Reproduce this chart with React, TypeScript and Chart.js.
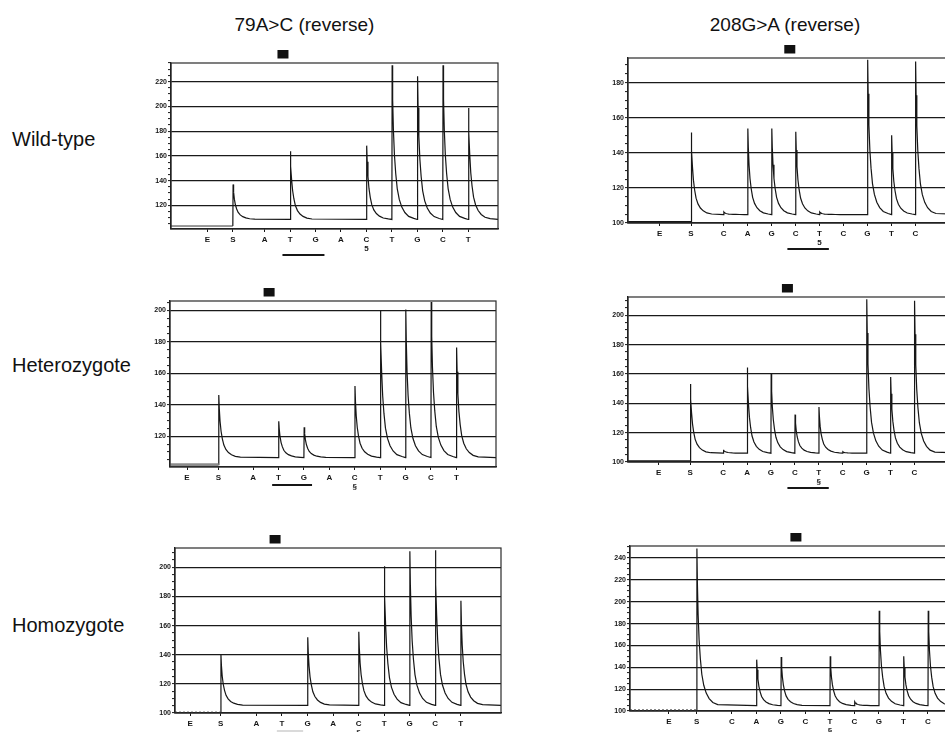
import React, { useEffect, useRef } from 'react';
import { Chart, registerables } from 'chart.js';

Chart.register(...registerables);

// ---------- data ----------
const columnTitles = ['79A>C (reverse)', '208G>A (reverse)'];
const rowLabels = ['Wild-type', 'Heterozygote', 'Homozygote'];

const letters79 = ['E', 'S', 'A', 'T', 'G', 'A', 'C', 'T', 'G', 'C', 'T'];
const letters208 = ['E', 'S', 'C', 'A', 'G', 'C', 'T', 'C', 'G', 'T', 'C'];

const notes5 = ['', '', '', '', '', '', '5', '', '', '', ''];
const notesS = ['', '', '', '', '', '', '§', '', '', '', ''];

// dispensation times (dispensation units, E = 0)
const timesWt79 = [0, 1, 2.25, 3.25, 4.25, 5.25, 6.25, 7.25, 8.25, 9.25, 10.25];
const timesWt208 = [0, 1.31, 2.67, 3.67, 4.67, 5.67, 6.67, 7.67, 8.67, 9.67, 10.67];
const timesHet79 = [0, 1.24, 2.6, 3.6, 4.6, 5.6, 6.6, 7.6, 8.6, 9.6, 10.6];
const timesHet208 = [0, 1.32, 2.7, 3.7, 4.7, 5.7, 6.7, 7.7, 8.7, 9.7, 10.7];
const timesHom79 = [0, 1.2, 2.6, 3.6, 4.6, 5.6, 6.6, 7.6, 8.6, 9.6, 10.6];
const timesHom208 = [0, 1.13, 2.57, 3.57, 4.57, 5.57, 6.57, 7.57, 8.57, 9.57, 10.57];

// peak heights (signal) per dispensation, null = no incorporation
const peaksWt79 = [null, 137, null, 163.8, null, null, 168.3, 233.2, 224.3, 233.2, 198.6];
const peaksWt208 = [null, 151.5, 106.3, 153.8, 153.8, 152, 106.3, null, 193, 150, 192];
const peaksHet79 = [null, 146.3, null, 129.6, 125.8, null, 152, 200, 200.6, 205.3, 176.4];
const peaksHet208 = [null, 153.2, 108.3, 164.5, 160.2, 132.3, 137.5, 107, 211, 158, 210];
const peaksHom79 = [null, 139.8, null, null, 152, null, 155.8, 200.7, 211, 211.7, 177];
const peaksHom208 = [null, 248.6, null, 147, 149.4, null, 150, 108.5, 191.8, 150, 191.8];

// baseline levels (after / before substrate)
const baseLevels = [108.7, 104.8, 106.5, 106, 105.2, 104.9];
const preLevels = [103.4, 100.4, 102, 100.4, 100.5, 101];

// y tick labels
const yTicksWt79 = [120, 140, 160, 180, 200, 220];
const yTicksWt208 = [100, 120, 140, 160, 180];
const yTicksHet79 = [120, 140, 160, 180, 200];
const yTicksHet208 = [100, 120, 140, 160, 180, 200];
const yTicksHom79 = [100, 120, 140, 160, 180, 200];
const yTicksHom208 = [100, 120, 140, 160, 180, 200, 220, 240];

// decay shape of a pyrogram peak (time offset, fraction of height)
const DECAY_T = [0.02, 0.05, 0.09, 0.14, 0.2, 0.28, 0.38, 0.5, 0.65, 0.85];
const DECAY_F = [0.78, 0.58, 0.42, 0.3, 0.2, 0.13, 0.08, 0.045, 0.02, 0.007];
const RISE = 0.01;

// ---------- layout ----------
const Y_AXIS_W = 30;
const PAD_TOP = 18;
const X_AXIS_H = 36;
const PAD_RIGHT = 2;
const FONT = '"Liberation Sans", Arial, Helvetica, sans-serif';
const INK = '#161616';

type Panel = {
  letters: string[];
  times: number[];
  peaks: (number | null)[];
  notes: string[];
  yMajor: number[];
  yMin: number;
  yMax: number;
  xMin: number;
  xMax: number;
  base: number;
  preBase: number;
  area: { left: number; top: number; right: number; bottom: number };
  marker: number;
  underline: null | { from: number; to: number; dy: number; color: string; width: number };
  pre: { color: string; width: number; dash: number[] };
};

const panels: Panel[] = [
  {
    letters: letters79, times: timesWt79, peaks: peaksWt79, notes: notes5, yMajor: yTicksWt79,
    yMin: 101, yMax: 235, xMin: -1.43, xMax: 11.42, base: baseLevels[0], preBase: preLevels[0],
    area: { left: 171, top: 63, right: 498, bottom: 229.3 }, marker: 2.97,
    underline: { from: 2.95, to: 4.6, dy: 26, color: INK, width: 2 },
    pre: { color: '#333', width: 1, dash: [] },
  },
  {
    letters: letters208, times: timesWt208, peaks: peaksWt208, notes: notes5, yMajor: yTicksWt208,
    yMin: 100, yMax: 194, xMin: -1.32, xMax: 12.74, base: baseLevels[1], preBase: preLevels[1],
    area: { left: 627.7, top: 58.3, right: 965, bottom: 223 }, marker: 5.43,
    underline: { from: 5.33, to: 7.06, dy: 26, color: INK, width: 2 },
    pre: { color: INK, width: 2.5, dash: [] },
  },
  {
    letters: letters79, times: timesHet79, peaks: peaksHet79, notes: notesS, yMajor: yTicksHet79,
    yMin: 100.5, yMax: 206, xMin: -0.67, xMax: 12.16, base: baseLevels[2], preBase: preLevels[2],
    area: { left: 169.7, top: 300.7, right: 495.7, bottom: 466.5 }, marker: 3.23,
    underline: { from: 3.35, to: 4.92, dy: 18, color: INK, width: 2 },
    pre: { color: '#8c8c8c', width: 3, dash: [] },
  },
  {
    letters: letters208, times: timesHet208, peaks: peaksHet208, notes: notesS, yMajor: yTicksHet208,
    yMin: 100, yMax: 212.5, xMin: -1.28, xMax: 12.82, base: baseLevels[3], preBase: preLevels[3],
    area: { left: 627.7, top: 297.3, right: 965, bottom: 462.7 }, marker: 5.39,
    underline: { from: 5.39, to: 7.12, dy: 26, color: INK, width: 2 },
    pre: { color: INK, width: 2.5, dash: [] },
  },
  {
    letters: letters79, times: timesHom79, peaks: peaksHom79, notes: notesS, yMajor: yTicksHom79,
    yMin: 100, yMax: 213.3, xMin: -0.59, xMax: 12.18, base: baseLevels[4], preBase: preLevels[4],
    area: { left: 175, top: 548.3, right: 500.7, bottom: 713.3 }, marker: 3.33,
    underline: { from: 3.4, to: 4.43, dy: 18, color: '#b5b5b5', width: 1 },
    pre: { color: '#333', width: 1.2, dash: [2, 2] },
  },
  {
    letters: letters208, times: timesHom208, peaks: peaksHom208, notes: notesS, yMajor: yTicksHom208,
    yMin: 100, yMax: 251, xMin: -1.59, xMax: 12.08, base: baseLevels[5], preBase: preLevels[5],
    area: { left: 630, top: 545.7, right: 965, bottom: 711 }, marker: 5.18,
    underline: null,
    pre: { color: '#555', width: 1.2, dash: [2, 2] },
  },
];

function tracePoints(p: Panel) {
  const pts: { x: number; y: number }[] = [];
  let level = p.preBase;
  p.times.forEach((t, i) => {
    const h = p.peaks[i];
    if (h == null) return;
    pts.push({ x: t, y: level });
    pts.push({ x: t + RISE, y: h });
    DECAY_T.forEach((dt, k) => pts.push({ x: t + RISE + dt, y: p.base + (h - p.base) * DECAY_F[k] }));
    level = p.base;
  });
  pts.push({ x: p.xMax, y: p.base });
  return pts;
}

function minorTicks(p: Panel) {
  const out: number[] = [];
  for (let v = Math.ceil(p.yMin / 5) * 5; v <= p.yMax; v += 5) out.push(v);
  return out;
}

function PanelChart({ p }: { p: Panel }) {
  const ref = useRef<HTMLCanvasElement | null>(null);
  const cw = Math.round(Y_AXIS_W + (p.area.right - p.area.left) + PAD_RIGHT);
  const ch = Math.round(PAD_TOP + (p.area.bottom - p.area.top) + X_AXIS_H);

  useEffect(() => {
    if (!ref.current) return;
    const yAll = minorTicks(p);
    const decor = {
      id: 'decor',
      afterDraw(chart: any) {
        const { ctx, chartArea: a, scales } = chart;
        const x = scales.x;
        ctx.save();
        ctx.strokeStyle = '#2a2a2a';
        ctx.lineWidth = 1.2;
        ctx.strokeRect(a.left, a.top, a.right - a.left, a.bottom - a.top);
        const mx = x.getPixelForValue(p.marker);
        ctx.fillStyle = '#111';
        ctx.fillRect(mx - 5.5, a.top - 13, 11, 8.5);
        if (p.underline) {
          const u = p.underline;
          ctx.strokeStyle = u.color;
          ctx.lineWidth = u.width;
          ctx.beginPath();
          ctx.moveTo(x.getPixelForValue(u.from), a.bottom + u.dy);
          ctx.lineTo(x.getPixelForValue(u.to), a.bottom + u.dy);
          ctx.stroke();
        }
        ctx.restore();
      },
    };
    const chart = new Chart(ref.current, {
      type: 'line',
      data: {
        datasets: [
          {
            data: [{ x: p.xMin, y: p.preBase }, { x: p.times[1], y: p.preBase }],
            borderColor: p.pre.color,
            borderWidth: p.pre.width,
            borderDash: p.pre.dash,
            pointRadius: 0,
            tension: 0,
            fill: false,
          },
          {
            data: tracePoints(p),
            borderColor: INK,
            borderWidth: 1.2,
            pointRadius: 0,
            tension: 0,
            fill: false,
          },
        ],
      },
      options: {
        animation: false,
        responsive: false,
        events: [],
        layout: { padding: { top: PAD_TOP, right: PAD_RIGHT, left: 0, bottom: 0 } },
        plugins: { legend: { display: false }, tooltip: { enabled: false } },
        scales: {
          x: {
            type: 'linear',
            min: p.xMin,
            max: p.xMax,
            afterBuildTicks: (s: any) => {
              s.ticks = p.times.map((v) => ({ value: v }));
            },
            afterFit: (s: any) => {
              s.height = X_AXIS_H;
            },
            ticks: {
              autoSkip: false,
              maxRotation: 0,
              padding: 3,
              color: INK,
              font: { family: FONT, size: 8, weight: 'bold', lineHeight: 1.15 },
              callback: (_v: any, i: number) => (p.notes[i] ? [p.letters[i], p.notes[i]] : p.letters[i]),
            },
            grid: { drawOnChartArea: false, drawTicks: true, tickLength: 3, tickColor: INK, tickWidth: 1 },
            border: { display: true, color: INK, width: 1.3 },
          },
          y: {
            type: 'linear',
            min: p.yMin,
            max: p.yMax,
            afterBuildTicks: (s: any) => {
              s.ticks = yAll.map((v) => ({ value: v }));
            },
            afterFit: (s: any) => {
              s.width = Y_AXIS_W;
            },
            ticks: {
              autoSkip: false,
              padding: 1,
              color: INK,
              font: { family: FONT, size: 7, weight: 'bold' },
              callback: (v: any) => (p.yMajor.includes(Number(v)) ? String(v) : ''),
            },
            grid: {
              color: (c: any) => (c.tick && p.yMajor.includes(c.tick.value) ? '#1a1a1a' : 'rgba(0,0,0,0)'),
              lineWidth: 1.2,
              drawTicks: true,
              tickLength: 3,
              tickColor: INK,
              tickWidth: 1,
            },
            border: { display: true, color: INK, width: 1.3 },
          },
        },
      } as any,
      plugins: [decor],
    });
    return () => chart.destroy();
  }, []);

  return (
    <canvas
      ref={ref}
      width={cw}
      height={ch}
      style={{
        position: 'absolute',
        left: p.area.left - Y_AXIS_W,
        top: p.area.top - PAD_TOP,
        width: cw,
        height: ch,
      }}
    />
  );
}

const titleCenters = [304.5, 785];
const rowCenters = [139, 365, 625];

export default function App() {
  return (
    <div
      style={{
        position: 'fixed',
        left: 0,
        top: 0,
        width: 945,
        height: 732,
        overflow: 'hidden',
        background: '#fff',
        fontFamily: FONT,
        color: '#111',
      }}
    >
      {columnTitles.map((t, i) => (
        <div
          key={t}
          style={{
            position: 'absolute',
            left: titleCenters[i],
            top: 25,
            transform: 'translate(-50%, -50%)',
            fontSize: 19,
            whiteSpace: 'nowrap',
          }}
        >
          {t}
        </div>
      ))}
      {rowLabels.map((t, i) => (
        <div
          key={t}
          style={{
            position: 'absolute',
            left: 12,
            top: rowCenters[i],
            transform: 'translateY(-50%)',
            fontSize: 20,
            whiteSpace: 'nowrap',
          }}
        >
          {t}
        </div>
      ))}
      {panels.map((p, i) => (
        <PanelChart key={i} p={p} />
      ))}
    </div>
  );
}
